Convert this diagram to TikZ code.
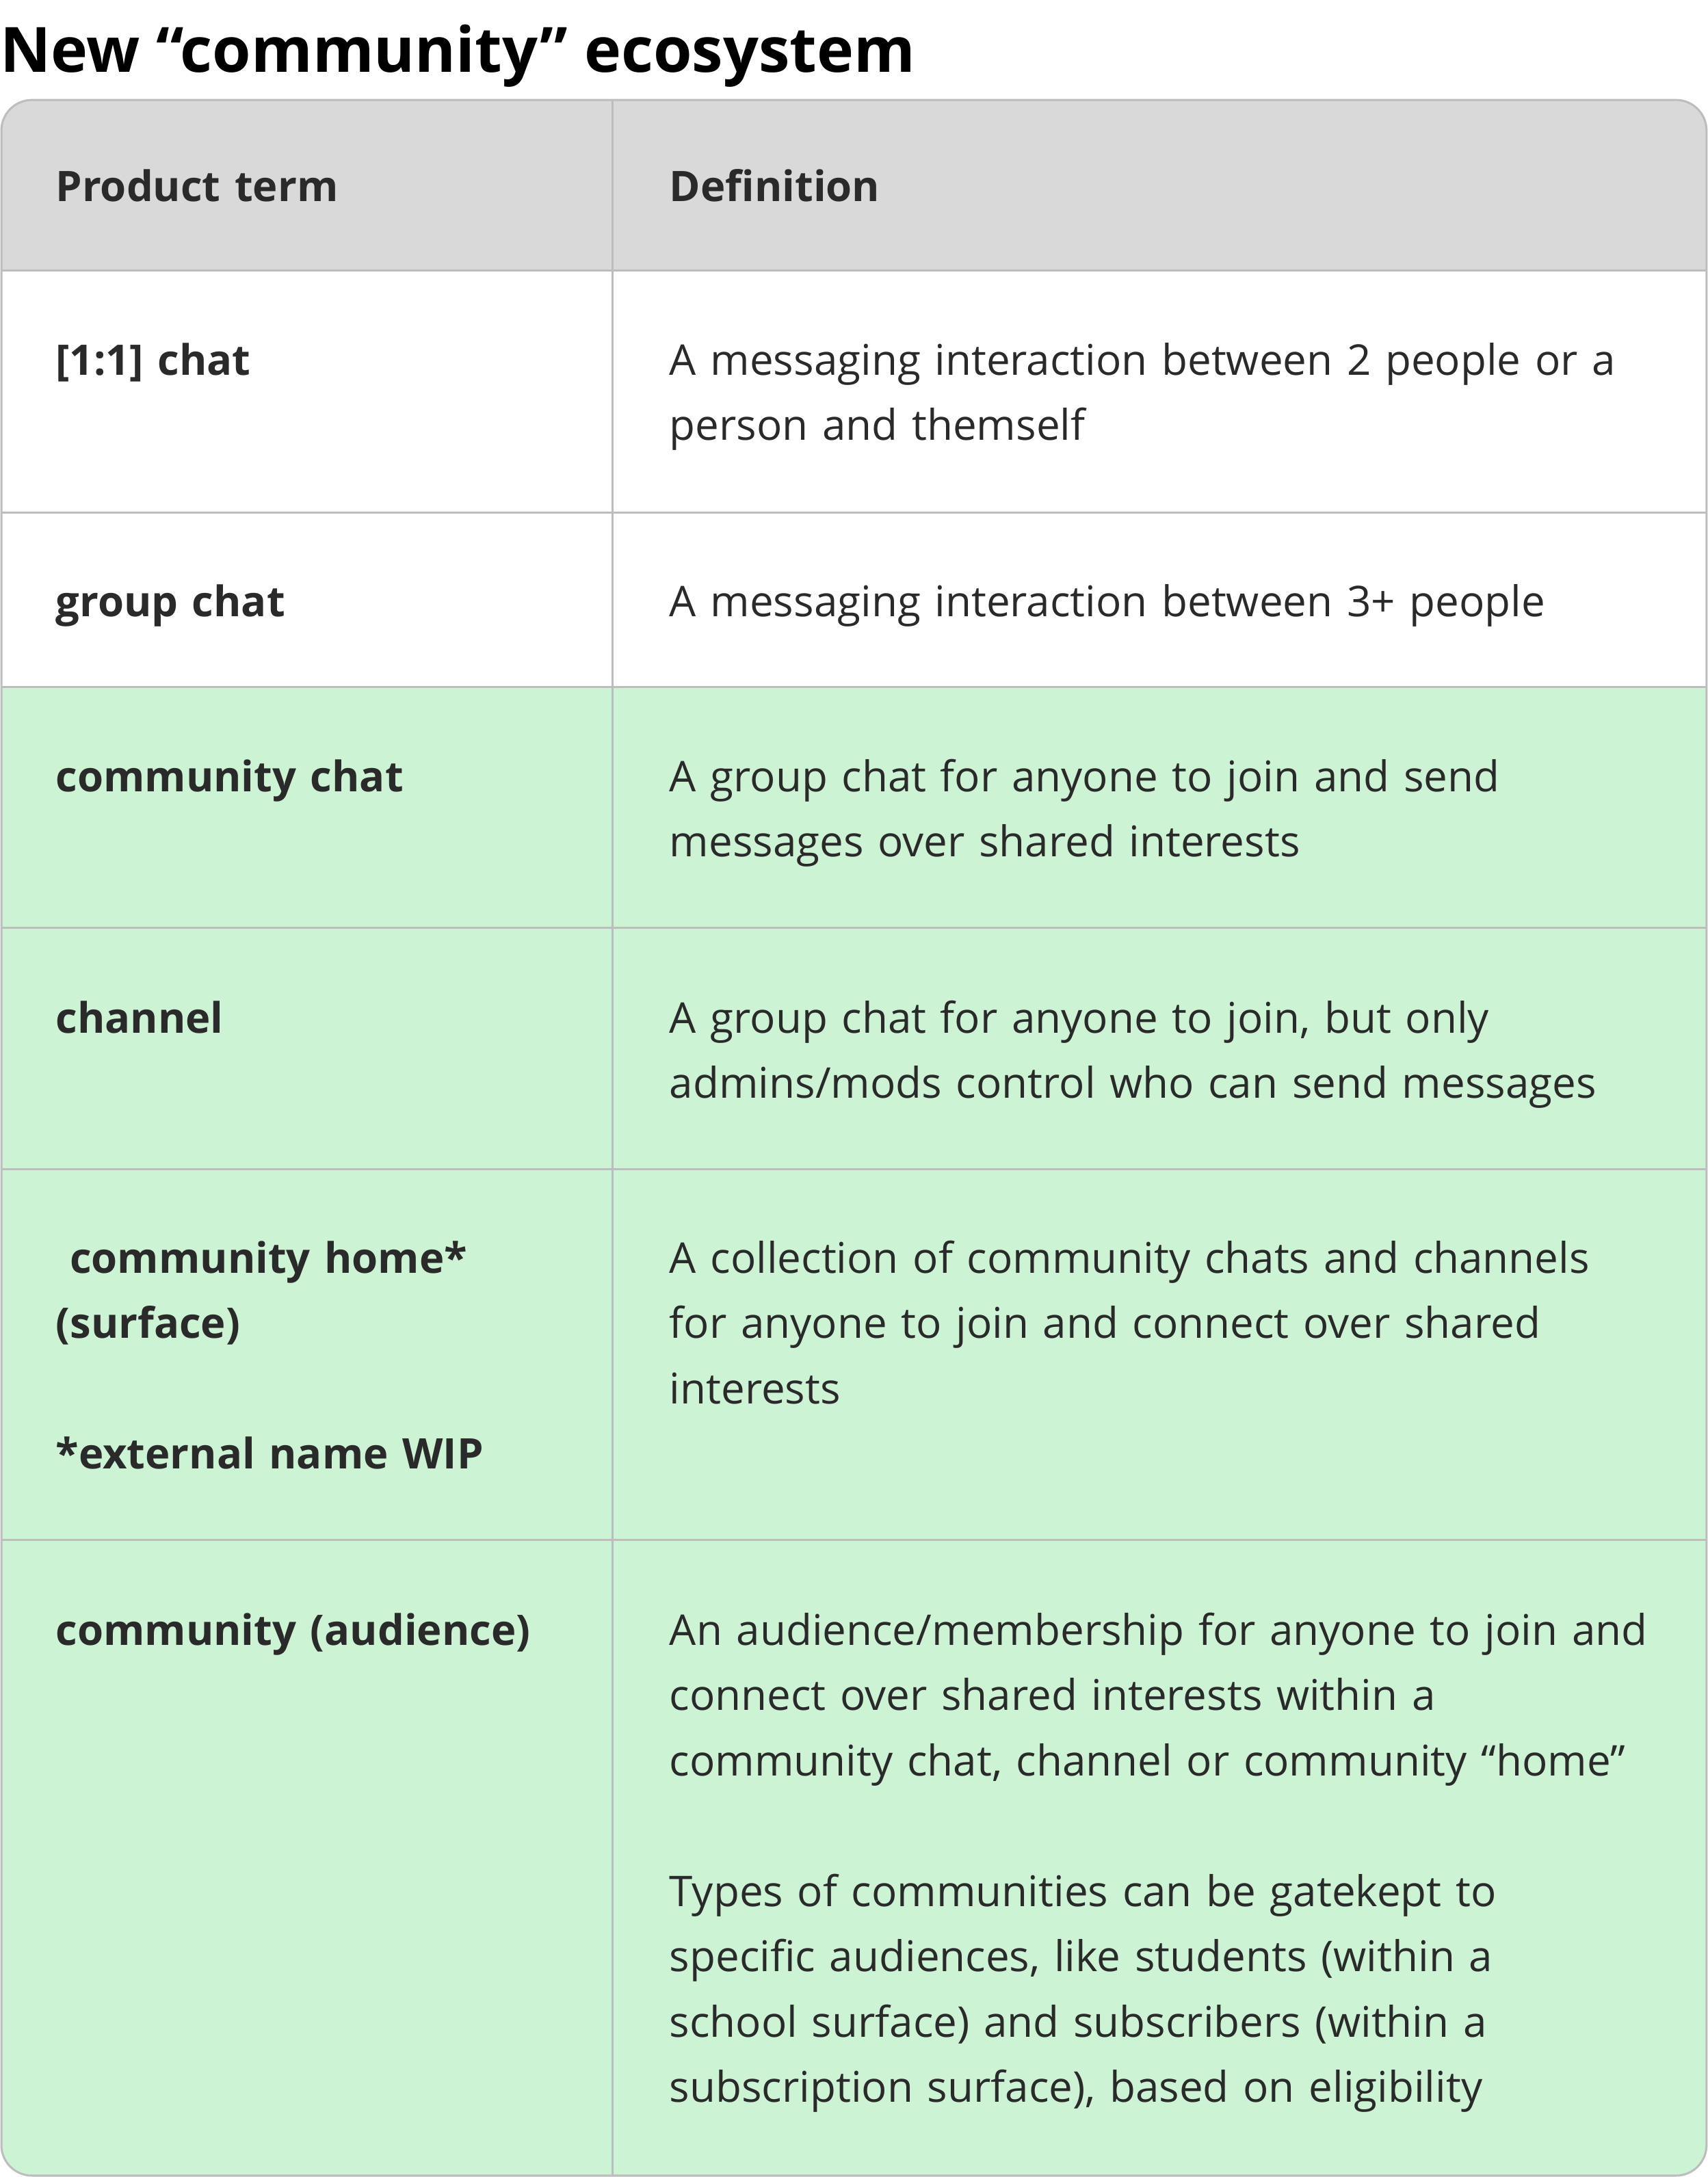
\documentclass[tikz,border=0pt]{standalone}
\usepackage{fontspec}
\setmainfont{Open Sans}
\usetikzlibrary{positioning}
\definecolor{headgray}{HTML}{D9D9D9}
\definecolor{rowgreen}{HTML}{CDF3D5}
\definecolor{rulegray}{HTML}{BDBDBD}
\definecolor{inkdark}{HTML}{2A2A2A}
\tikzset{
	term node/.style={anchor=base west,inner sep=0,text=inkdark,font=\fontsize{30.3}{47}\selectfont\bfseries,text width=390pt,align=left},
	def node/.style={anchor=base west,inner sep=0,text=inkdark,font=\fontsize{30.5}{47}\selectfont,text width=740pt,align=left},
	rule line/.style={draw=rulegray,line width=1.5pt}
}
\begin{document}
\begin{tikzpicture}[x=1pt,y=-1pt]
\useasboundingbox (0,0) rectangle (1230,1568);
% title
\node[anchor=base west,inner sep=0,text=black,font=\fontsize{45}{50}\selectfont\bfseries] (title) at (0,52) {New “community” ecosystem};
% row backgrounds
\begin{scope}
\clip[rounded corners=22pt] (1,72) rectangle (1229,1567);
\fill[headgray] (0,72) rectangle (1230,195);
\fill[white] (0,195) rectangle (1230,495);
\fill[rowgreen] (0,495) rectangle (1230,1568);
\end{scope}
% grid
\draw[rule line,rounded corners=22pt] (1,72) rectangle (1229,1567);
\draw[rule line] (441,72) -- (441,1567);
\foreach \y in {195,369,495,668,842,1109}
  \draw[rule line] (1,\y) -- (1229,\y);
% header
\node[term node] (h1) at (40,145) {Product term};
\node[term node] (h2) at (482,145) {Definition};
% terms
\node[term node] (t1) at (40,270) {[1:1] chat};
\node[term node] (t2) at (40,444) {group chat};
\node[term node] (t3) at (40,570) {community chat};
\node[term node] (t4) at (40,744) {channel};
\node[term node] (t5) at (40,917) {\ community home*\\(surface)\\[47pt]*external name WIP};
\node[term node] (t6) at (40,1185) {community (audience)};
% definitions
\node[def node] (d1) at (482,270) {A messaging interaction between 2 people or a\\person and themself};
\node[def node] (d2) at (482,444) {A messaging interaction between 3+ people};
\node[def node] (d3) at (482,570) {A group chat for anyone to join and send\\messages over shared interests};
\node[def node] (d4) at (482,744) {A group chat for anyone to join, but only\\admins/mods control who can send messages};
\node[def node] (d5) at (482,917) {A collection of community chats and channels\\for anyone to join and connect over shared\\interests};
\node[def node] (d6) at (482,1185) {An audience/membership for anyone to join and\\connect over shared interests within a\\community chat, channel or community “home”\\[47pt]Types of communities can be gatekept to\\specific audiences, like students (within a\\school surface) and subscribers (within a\\subscription surface), based on eligibility};
\end{tikzpicture}
\end{document}
